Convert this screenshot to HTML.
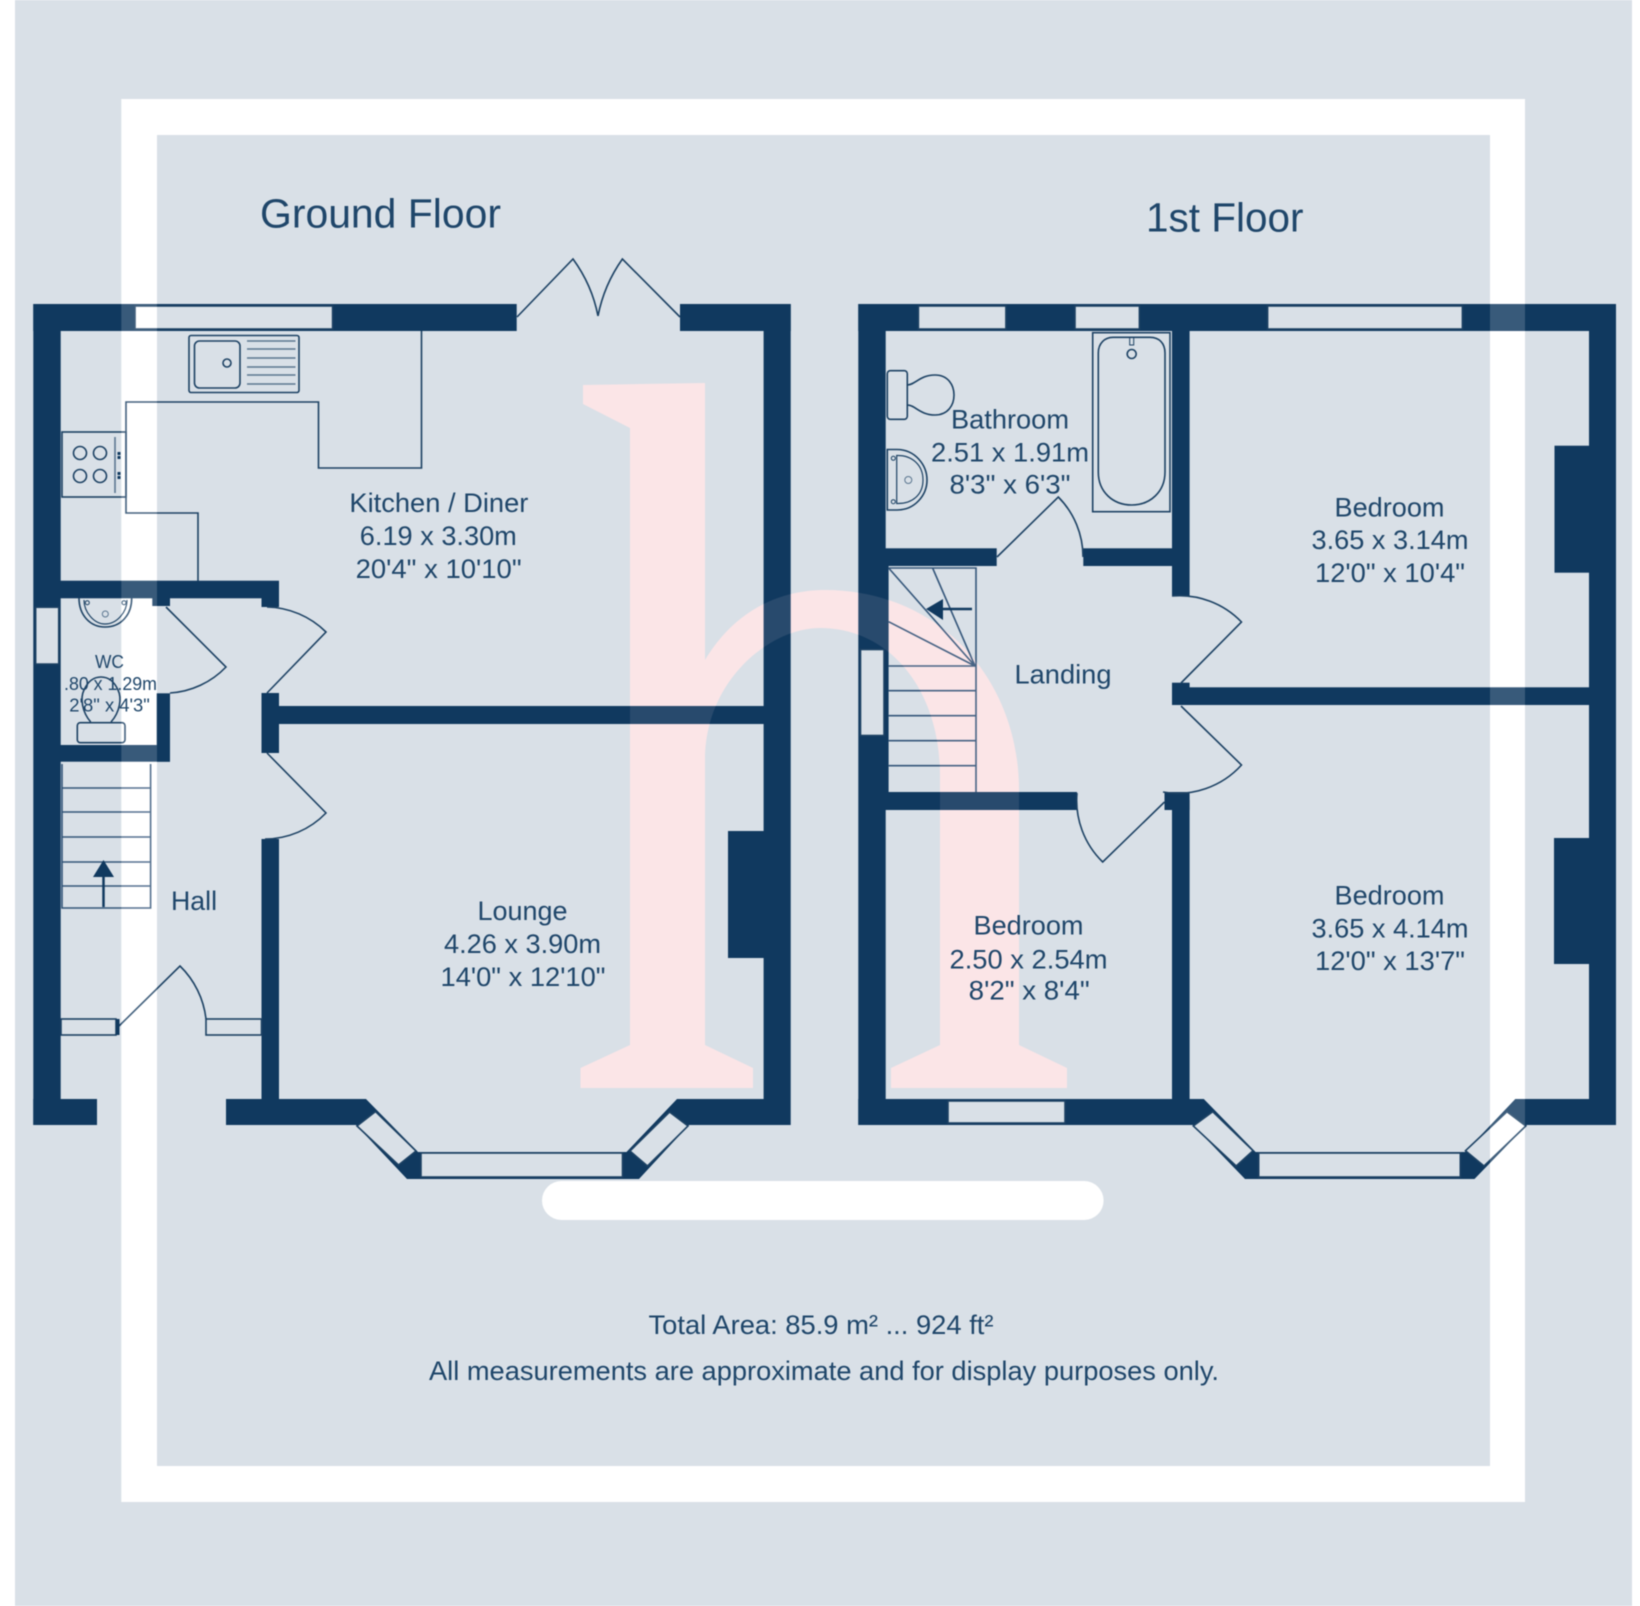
<!DOCTYPE html>
<html><head><meta charset="utf-8"><title>Floor plan</title>
<style>html,body{margin:0;padding:0;background:#fff}svg{display:block;filter:blur(.4px)}
text{font-family:"Liberation Sans",sans-serif;fill:#1f466a;font-size:27px}</style></head>
<body>
<svg width="1640" height="1606" viewBox="0 0 1640 1606" xmlns="http://www.w3.org/2000/svg">
<defs>
<path id="frame" fill-rule="evenodd" d="M121.3 99H1525V1502H121.3ZM157 135V1466H1490V135Z"/>
<path id="logo" d="M583 385L705 383V660C735 610 780 590 825 590C940 590 1019 680 1019 790V1045L1067 1068V1088H891V1068L940 1045V775C940 690 890 628 820 628C770 628 705 680 705 760V1045L753 1068V1088H580.5V1068L630 1045V428L583 404Z"/>
<mask id="holes" maskUnits="userSpaceOnUse" x="0" y="0" width="1640" height="1606">
<rect width="1640" height="1606" fill="#fff"/>
<g fill="#000">
<rect x="135" y="306" width="197.6" height="23"/>
<rect x="35.7" y="607.3" width="23" height="56.7"/>
<rect x="918.4" y="306" width="87.5" height="23"/>
<rect x="1075" y="306" width="64.4" height="23"/>
<rect x="1267.6" y="306" width="194.8" height="23"/>
<rect x="860.5" y="649.5" width="23.5" height="86"/>
<rect x="948" y="1101" width="117" height="22"/>
<rect x="421" y="1153" width="201.5" height="24"/>
<rect x="1258.7" y="1153" width="201.6" height="24"/>
<polygon points="375.5,1111.6 416,1151 398.5,1165 357,1126"/>
<polygon points="669.5,1112 630,1151 647.5,1166 688,1126"/>
<polygon points="1212.7,1111.7 1253,1150.7 1236.2,1166 1193.3,1126"/>
<polygon points="1507,1111.7 1465.5,1150.7 1484,1166 1525.8,1126"/>
</g></mask>
<g id="walls" mask="url(#holes)">
<!-- ground floor -->
<rect x="33.3" y="304" width="483.4" height="27"/>
<rect x="680" y="304" width="110.7" height="27"/>
<rect x="763.6" y="304" width="27.1" height="821"/>
<rect x="33.3" y="304" width="27.4" height="821"/>
<rect x="33.3" y="1099" width="63.7" height="26"/>
<rect x="60" y="580.7" width="219" height="17.6"/>
<rect x="152.3" y="590" width="17.7" height="16"/>
<rect x="261.5" y="590" width="17.5" height="17"/>
<rect x="156.7" y="693.3" width="13.3" height="68.4"/>
<rect x="60" y="745" width="110" height="16.7"/>
<rect x="261.5" y="693" width="17.5" height="60"/>
<rect x="275" y="706" width="490" height="18"/>
<rect x="261.5" y="839" width="17.5" height="266"/>
<polygon points="226,1099 366,1099 418,1152 626.5,1152 677,1099 770,1099 770,1125 689,1125 639,1179 407,1179 356,1125 226,1125"/>
<rect x="728" y="831" width="36" height="127"/>
<!-- first floor -->
<rect x="858.3" y="304" width="757.7" height="27"/>
<rect x="1589" y="304" width="27" height="821"/>
<rect x="858.3" y="304" width="27.4" height="821"/>
<rect x="880" y="566" width="8.6" height="226"/>
<rect x="880" y="548.3" width="116.7" height="17.7"/>
<rect x="1083.3" y="548.3" width="106" height="17.7"/>
<rect x="1172" y="320" width="17.6" height="276"/>
<rect x="1172" y="682.7" width="17.6" height="22.3"/>
<rect x="1185" y="687.3" width="410" height="17.7"/>
<rect x="880" y="792" width="197" height="18"/>
<rect x="1164.5" y="792" width="25.1" height="18"/>
<rect x="1172" y="800" width="17.6" height="305"/>
<polygon points="858.3,1099 1203.8,1099 1255.6,1152 1465,1152 1515.3,1099 1600,1099 1600,1125 1526.8,1125 1474.5,1179 1245,1179 1192.8,1125 858.3,1125"/>
<rect x="1554.5" y="445.7" width="35" height="127"/>
<rect x="1554" y="838" width="35" height="126"/>
</g>
</defs>
<rect width="1640" height="1606" fill="#fff"/>
<rect x="15" y="0" width="1617" height="1606" fill="#d9e0e7"/>
<use href="#frame" fill="#fff"/>
<rect x="542" y="1181" width="561.6" height="39" rx="19.5" fill="#fff"/>
<use href="#logo" fill="#fbe6e7"/>

<use href="#walls" fill="#10395f"/>

<g fill="none" stroke="#1d4264" stroke-width="1.6">
<!-- window outlines -->
<rect x="135" y="306" width="197.6" height="23"/>
<rect x="35.7" y="607.3" width="23" height="56.7" stroke-width="1.5"/>
<rect x="918.4" y="306" width="87.5" height="23"/>
<rect x="1075" y="306" width="64.4" height="23"/>
<rect x="1267.6" y="306" width="194.8" height="23"/>
<rect x="860.5" y="649.5" width="23.5" height="86"/>
<rect x="948" y="1101" width="117" height="22"/>
<rect x="421" y="1153" width="201.5" height="24"/>
<rect x="1258.7" y="1153" width="201.6" height="24"/>
<polygon points="375.5,1111.6 416,1151 398.5,1165 357,1126"/>
<polygon points="669.5,1112 630,1151 647.5,1166 688,1126"/>
<polygon points="1212.7,1111.7 1253,1150.7 1236.2,1166 1193.3,1126"/>
<polygon points="1507,1111.7 1465.5,1150.7 1484,1166 1525.8,1126"/>
<rect x="61" y="1019" width="55" height="16" fill="#d9e0e7"/>
<rect x="206" y="1019" width="55.5" height="16" fill="#d9e0e7"/>
<!-- kitchen counter -->
<path d="M421.5 331V468H318.5V402H126V513H198V581"/>
<rect x="189" y="335.5" width="110" height="57" rx="2"/>
<rect x="194.5" y="341" width="45.5" height="47" rx="5"/>
<circle cx="227" cy="363" r="4"/>
<path d="M247 341H295.5M247 349H295.5M247 358H295.5M247 367H295.5M247 375H295.5M247 384H295.5" stroke="#5b7690"/>
<!-- hob -->
<rect x="62" y="432" width="64" height="65"/>
<circle cx="80" cy="453" r="6.5"/><circle cx="100" cy="453" r="6.5"/>
<circle cx="80" cy="476" r="6.5"/><circle cx="100" cy="476" r="6.5"/>
<path d="M115 437V493" stroke="#5b7690"/>
<!-- WC fittings -->
<path d="M79 598C79 615 90 627 105 627C121 627 131.7 615 131.7 598"/>
<path d="M84 600C84 612 94 624 105 624C117 624 127 612 127 600" stroke-width="1.2"/>
<circle cx="87.3" cy="602.7" r="2" stroke-width="1"/><circle cx="124" cy="602.7" r="2" stroke-width="1"/>
<circle cx="105.3" cy="614" r="3" stroke-width="1" stroke="#5b7690"/>
<path d="M90.7 722C82 712 80 698 84 690C88 681 94 677 101 677C108 677 114 681 118 690C122 698 120 712 111 722"/>
<rect x="77.3" y="722.7" width="47.7" height="20" rx="3"/>
<!-- stairs ground -->
<path d="M62 764V908H150.6V764M62 788H150.6M62 812H150.6M62 837H150.6M62 862H150.6M62 886H150.6" stroke="#34567a"/>
<path d="M103.5 907V876" stroke="#10395f" stroke-width="2.5"/>
<!-- doors ground -->
<path d="M517 317L573 259Q592 285 598 316M680 317L622.4 259Q604 285 598 316"/>
<path d="M267 693L326 632A86 86 0 0 0 267 607"/>
<path d="M166 607L226 667A85 85 0 0 1 170 693"/>
<path d="M267 753L326 813A85 85 0 0 1 265 839"/>
<path d="M118 1027L180 966A88 88 0 0 1 206 1019"/>
<!-- bathroom fittings -->
<rect x="1092.7" y="332.7" width="77.3" height="179"/>
<path d="M1098.3 353C1098.3 343 1105 337.3 1113 337.3H1150C1159 337.3 1165 343 1165 353V472C1165 492 1150 505 1131.7 505C1113 505 1098.3 492 1098.3 472Z"/>
<circle cx="1131.7" cy="354" r="4.5"/>
<rect x="1129.7" y="337" width="4" height="8" stroke-width="1"/>
<rect x="887.3" y="370.7" width="20" height="48.6" rx="3"/>
<path d="M907.3 385C915 385 920 375 935 375C948 375 954 385 954 395C954 405 948 415 935 415C920 415 915 405 907.3 405"/>
<path d="M887.3 449.5H897C915 449.5 927 465 927 480C927 495 915 510 897 510H887.3Z"/>
<path d="M896.7 455.5C912 455 923 465 923 480C923 495 912 504 896.7 503.5Z" stroke-width="1.2"/>
<circle cx="893.3" cy="458.3" r="2" stroke-width="1"/><circle cx="893.3" cy="501.7" r="2" stroke-width="1"/>
<circle cx="908.3" cy="480" r="3.5" stroke-width="1" stroke="#5b7690"/>
<!-- stairs first -->
<path d="M888.6 568H976V792M888.6 568L975 666M932.6 568L975 666M888.6 621.7L975 666M888.6 666H976M888.6 690.7H976M888.6 715.7H976M888.6 740.7H976M888.6 765.7H976" stroke="#34567a"/>
<path d="M972 609H942" stroke="#10395f" stroke-width="2.5"/>
<!-- doors first -->
<path d="M997 557L1058.3 497A85 85 0 0 1 1083 557"/>
<path d="M1181 683L1241.5 622A86 86 0 0 0 1172 596"/>
<path d="M1181 706L1241.5 765A86 86 0 0 1 1163 792"/>
<path d="M1164.5 802L1102.7 862A86 86 0 0 1 1077 793"/>
</g>
<g fill="#10395f">
<polygon points="103.5,860 114,877 93,877"/>
<polygon points="926,609 943,599 943,620"/>
<rect x="116" y="1019" width="3.5" height="16"/>
<rect x="117.5" y="452" width="3" height="3"/><rect x="117.5" y="456" width="3" height="3"/>
<rect x="117.5" y="472" width="3" height="3"/><rect x="117.5" y="476" width="3" height="3"/>
</g>
<!-- translucent watermark layer -->
<use href="#frame" fill="#fff" opacity=".17"/>
<use href="#logo" fill="#fbe6e7" opacity=".1"/>

<text x="260" y="227.7" style="font-size:41px" textLength="241" lengthAdjust="spacingAndGlyphs">Ground Floor</text>
<text x="1146" y="231.7" style="font-size:41px" textLength="157.5" lengthAdjust="spacingAndGlyphs">1st Floor</text>

<text x="349.4" y="512" textLength="179" lengthAdjust="spacingAndGlyphs">Kitchen / Diner</text>
<text x="359.8" y="545" textLength="157" lengthAdjust="spacingAndGlyphs">6.19 x 3.30m</text>
<text x="355.6" y="578" textLength="166" lengthAdjust="spacingAndGlyphs">20'4" x 10'10"</text>

<text x="477.5" y="920" textLength="90" lengthAdjust="spacingAndGlyphs">Lounge</text>
<text x="444" y="953" textLength="157" lengthAdjust="spacingAndGlyphs">4.26 x 3.90m</text>
<text x="440.5" y="986" textLength="165" lengthAdjust="spacingAndGlyphs">14'0" x 12'10"</text>

<text x="171" y="910" textLength="46" lengthAdjust="spacingAndGlyphs">Hall</text>

<g style="font-size:18px">
<text x="95" y="668" style="font-size:18px" textLength="29" lengthAdjust="spacingAndGlyphs">WC</text>
<text x="64" y="690" style="font-size:18px" textLength="93" lengthAdjust="spacingAndGlyphs">.80 x 1.29m</text>
<text x="69.3" y="711.7" style="font-size:18px" textLength="80.5" lengthAdjust="spacingAndGlyphs">2'8" x 4'3"</text>
</g>

<text x="951" y="428.3" textLength="118" lengthAdjust="spacingAndGlyphs">Bathroom</text>
<text x="931" y="461.7" textLength="158" lengthAdjust="spacingAndGlyphs">2.51 x 1.91m</text>
<text x="949.5" y="493.3" textLength="121" lengthAdjust="spacingAndGlyphs">8'3" x 6'3"</text>

<text x="1014.5" y="683.3" textLength="97" lengthAdjust="spacingAndGlyphs">Landing</text>

<text x="1334.5" y="516.7" textLength="110" lengthAdjust="spacingAndGlyphs">Bedroom</text>
<text x="1311.5" y="549" textLength="157" lengthAdjust="spacingAndGlyphs">3.65 x 3.14m</text>
<text x="1315" y="582" textLength="150" lengthAdjust="spacingAndGlyphs">12'0" x 10'4"</text>

<text x="1334.5" y="904.3" textLength="110" lengthAdjust="spacingAndGlyphs">Bedroom</text>
<text x="1311.5" y="937.7" textLength="157" lengthAdjust="spacingAndGlyphs">3.65 x 4.14m</text>
<text x="1315" y="970" textLength="150" lengthAdjust="spacingAndGlyphs">12'0" x 13'7"</text>

<text x="973.5" y="934.3" textLength="110" lengthAdjust="spacingAndGlyphs">Bedroom</text>
<text x="949.5" y="968.7" textLength="158" lengthAdjust="spacingAndGlyphs">2.50 x 2.54m</text>
<text x="968.7" y="999.3" textLength="121" lengthAdjust="spacingAndGlyphs">8'2" x 8'4"</text>

<text x="648.5" y="1334" textLength="345" lengthAdjust="spacingAndGlyphs">Total Area: 85.9 m² ... 924 ft²</text>
<text x="429" y="1380" textLength="790" lengthAdjust="spacingAndGlyphs">All measurements are approximate and for display purposes only.</text>
</svg>
</body></html>
